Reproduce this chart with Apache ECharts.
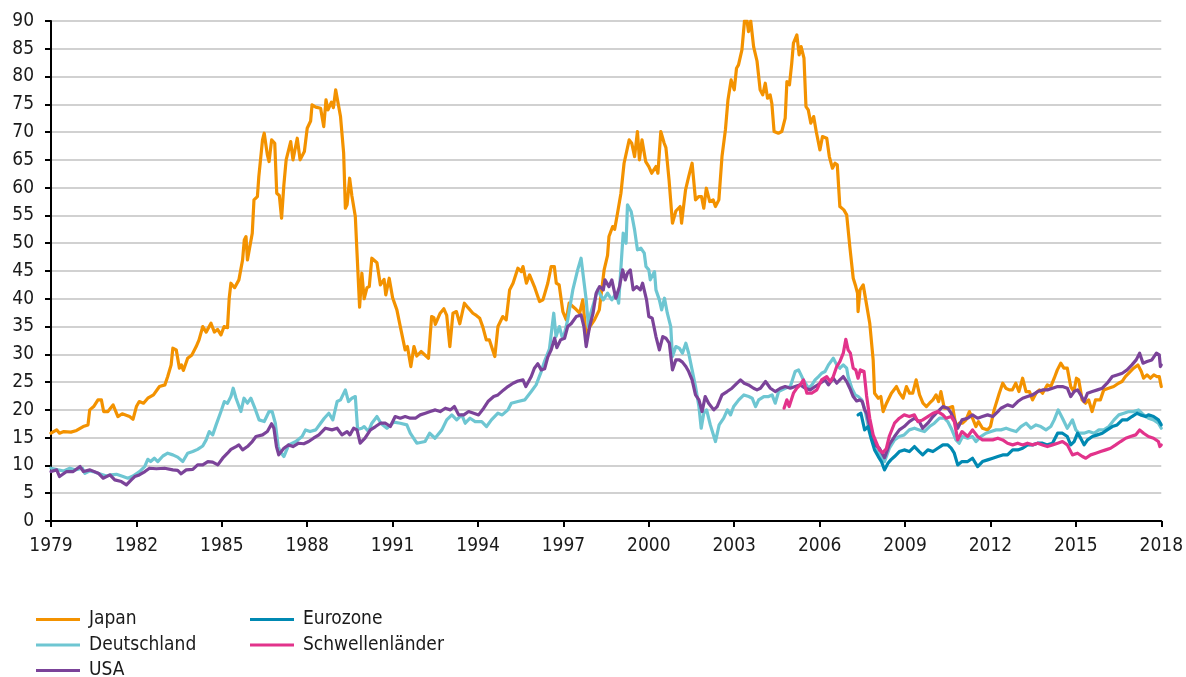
<!DOCTYPE html>
<html>
<head>
<meta charset="utf-8">
<script src="https://cdn.jsdelivr.net/npm/echarts@6/dist/echarts.min.js"></script>
<style>
html,body{margin:0;padding:0;background:#fff;}
#chart{width:1186px;height:677px;}
</style>
</head>
<body>
<div id="chart"></div>
<script>
// x range and tick labels
const startYear = 1979;
const endYear = 2018;
const yearStep = 3;
const yMin = 0, yMax = 90, yStep = 5;

const seriesNames = ['Japan', 'Deutschland', 'USA', 'Eurozone', 'Schwellenländer'];

// [year, value]
const japan = [[1979.0,15.8],[1979.2,16.4],[1979.3,15.8],[1979.45,16.1],[1979.7,16.0],[1979.9,16.3],[1980.13,17.0],[1980.3,17.3],[1980.36,20.0],[1980.5,20.6],[1980.65,21.8],[1980.77,21.8],[1980.85,19.7],[1981.0,19.7],[1981.18,20.9],[1981.35,18.8],[1981.5,19.3],[1981.76,18.8],[1981.88,18.3],[1982.0,20.6],[1982.1,21.5],[1982.25,21.2],[1982.4,22.1],[1982.6,22.7],[1982.81,24.2],[1983.0,24.5],[1983.1,26.0],[1983.22,28.1],[1983.28,31.1],[1983.4,30.8],[1983.51,27.5],[1983.58,28.1],[1983.65,27.1],[1983.8,29.3],[1983.95,29.9],[1984.1,31.4],[1984.2,32.6],[1984.33,35.0],[1984.45,34.0],[1984.62,35.6],[1984.74,34.0],[1984.85,34.5],[1984.97,33.5],[1985.08,35.0],[1985.2,34.8],[1985.26,40.1],[1985.32,42.8],[1985.45,42.0],[1985.6,43.4],[1985.73,47.0],[1985.79,50.6],[1985.85,51.2],[1985.9,47.0],[1986.07,51.8],[1986.13,57.8],[1986.25,58.4],[1986.3,62.0],[1986.43,68.6],[1986.49,69.8],[1986.6,65.9],[1986.66,64.7],[1986.75,68.6],[1986.86,68.0],[1986.93,59.0],[1987.02,58.6],[1987.1,54.5],[1987.18,60.5],[1987.26,65.0],[1987.42,68.3],[1987.5,65.0],[1987.65,68.9],[1987.75,65.0],[1987.9,66.5],[1988.0,70.7],[1988.12,72.0],[1988.17,74.9],[1988.3,74.5],[1988.47,74.3],[1988.58,71.0],[1988.66,75.8],[1988.73,74.0],[1988.85,75.4],[1988.92,74.4],[1989.0,77.6],[1989.07,77.5],[1989.17,72.8],[1989.28,66.2],[1989.34,56.3],[1989.4,56.9],[1989.49,61.7],[1989.57,58.5],[1989.69,54.8],[1989.75,48.2],[1989.84,38.5],[1989.92,44.6],[1990.0,40.0],[1990.1,42.0],[1990.18,42.2],[1990.27,47.3],[1990.45,46.5],[1990.5,46.2],[1990.57,42.5],[1990.7,43.5],[1990.76,40.7],[1990.88,43.7],[1991.0,40.2],[1991.15,38.0],[1991.27,35.0],[1991.44,30.8],[1991.52,31.4],[1991.64,27.8],[1991.75,31.4],[1991.85,29.7],[1992.0,30.5],[1992.26,29.3],[1992.37,36.8],[1992.45,36.6],[1992.5,35.4],[1992.67,37.4],[1992.8,38.2],[1992.9,37.0],[1993.01,31.4],[1993.12,37.4],[1993.24,37.7],[1993.36,35.5],[1993.52,39.2],[1993.65,38.4],[1993.82,37.4],[1993.94,37.0],[1994.06,36.5],[1994.17,34.9],[1994.29,32.6],[1994.4,32.6],[1994.59,29.6],[1994.7,35.0],[1994.87,36.8],[1994.99,36.2],[1995.11,41.6],[1995.23,42.8],[1995.4,45.5],[1995.52,44.9],[1995.58,45.8],[1995.7,42.8],[1995.81,44.3],[1995.98,42.2],[1996.16,39.5],[1996.28,39.8],[1996.45,42.8],[1996.57,45.8],[1996.68,45.8],[1996.75,42.8],[1996.85,42.5],[1996.98,37.7],[1997.1,36.2],[1997.2,39.2],[1997.4,38.3],[1997.57,37.4],[1997.68,39.8],[1997.8,33.2],[1997.92,34.9],[1998.09,36.2],[1998.26,38.0],[1998.43,45.2],[1998.55,47.8],[1998.6,51.2],[1998.73,53.0],[1998.8,52.5],[1998.9,55.4],[1999.02,59.0],[1999.13,64.4],[1999.31,68.6],[1999.4,68.0],[1999.5,65.6],[1999.6,70.1],[1999.67,65.0],[1999.76,68.6],[1999.89,64.7],[2000.0,63.8],[2000.1,62.6],[2000.25,63.8],[2000.32,62.6],[2000.42,70.1],[2000.54,68.0],[2000.6,67.2],[2000.71,61.4],[2000.83,53.6],[2000.95,55.8],[2001.1,56.6],[2001.15,53.6],[2001.29,59.6],[2001.4,62.0],[2001.52,64.4],[2001.64,57.8],[2001.75,58.4],[2001.85,58.4],[2001.93,56.3],[2002.02,59.9],[2002.14,57.5],[2002.26,57.8],[2002.34,56.6],[2002.46,57.8],[2002.57,65.6],[2002.69,70.4],[2002.78,75.8],[2002.89,79.4],[2003.0,77.6],[2003.08,81.5],[2003.15,82.1],[2003.27,84.8],[2003.36,90.0],[2003.45,90.0],[2003.5,88.1],[2003.58,90.0],[2003.68,85.4],[2003.8,82.8],[2003.91,77.6],[2004.0,76.7],[2004.09,78.8],[2004.17,76.1],[2004.26,76.7],[2004.32,75.2],[2004.4,70.1],[2004.55,69.8],[2004.67,70.1],[2004.79,72.5],[2004.85,79.1],[2004.94,78.5],[2005.02,82.4],[2005.08,86.0],[2005.2,87.5],[2005.28,83.9],[2005.35,85.4],[2005.45,83.3],[2005.52,74.6],[2005.6,74.0],[2005.69,71.6],[2005.79,72.8],[2005.88,70.1],[2006.01,66.8],[2006.1,69.2],[2006.25,68.9],[2006.34,65.6],[2006.45,63.5],[2006.54,64.4],[2006.62,64.1],[2006.71,56.6],[2006.85,56.0],[2006.95,55.1],[2007.06,49.4],[2007.18,43.7],[2007.27,42.2],[2007.33,41.0],[2007.35,37.7],[2007.42,41.6],[2007.53,42.5],[2007.65,38.9],[2007.76,35.6],[2007.88,29.0],[2007.93,23.0],[2008.06,22.1],[2008.15,22.4],[2008.23,19.7],[2008.35,21.2],[2008.52,23.0],[2008.7,24.2],[2008.81,23.0],[2008.93,22.1],[2009.05,24.2],[2009.16,23.0],[2009.27,23.0],[2009.39,25.4],[2009.51,22.7],[2009.63,21.2],[2009.75,20.6],[2009.86,21.2],[2009.98,21.8],[2010.09,22.7],[2010.18,21.5],[2010.26,23.3],[2010.38,20.3],[2010.5,20.3],[2010.67,20.6],[2010.79,17.0],[2010.9,17.6],[2011.02,17.6],[2011.14,18.2],[2011.26,19.7],[2011.37,18.5],[2011.49,17.0],[2011.58,17.9],[2011.72,16.7],[2011.9,16.4],[2012.0,17.0],[2012.13,20.0],[2012.31,23.0],[2012.43,24.8],[2012.54,23.9],[2012.66,23.6],[2012.77,23.6],[2012.89,24.8],[2013.0,23.3],[2013.13,25.7],[2013.25,23.3],[2013.37,23.3],[2013.48,21.8],[2013.6,23.0],[2013.72,23.6],[2013.83,23.0],[2014.0,24.5],[2014.12,24.2],[2014.24,25.7],[2014.35,27.2],[2014.47,28.4],[2014.58,27.5],[2014.7,27.5],[2014.82,24.2],[2014.93,23.3],[2015.02,25.7],[2015.1,25.4],[2015.22,21.8],[2015.34,21.2],[2015.45,21.8],[2015.57,19.7],[2015.69,21.8],[2015.86,21.8],[2015.98,23.6],[2016.15,23.9],[2016.33,24.2],[2016.5,24.8],[2016.62,25.1],[2016.74,26.0],[2016.91,26.9],[2017.03,27.5],[2017.18,28.1],[2017.3,26.9],[2017.38,25.7],[2017.5,26.3],[2017.62,25.7],[2017.74,26.3],[2017.85,26.0],[2017.93,26.0],[2018.0,24.2]];

const deutschland = [[1979.0,9.5],[1979.25,9.2],[1979.45,9.0],[1979.66,9.5],[1979.85,9.2],[1980.1,9.5],[1980.19,8.6],[1980.35,9.0],[1980.48,8.9],[1980.65,8.6],[1980.95,8.1],[1981.1,8.3],[1981.3,8.4],[1981.53,8.0],[1981.7,7.7],[1981.88,8.1],[1982.11,8.9],[1982.29,9.8],[1982.4,11.1],[1982.5,10.7],[1982.63,11.3],[1982.75,10.7],[1982.93,11.7],[1983.1,12.2],[1983.28,11.9],[1983.45,11.5],[1983.63,10.7],[1983.8,12.2],[1983.98,12.5],[1984.15,12.9],[1984.33,13.5],[1984.45,14.6],[1984.56,16.1],[1984.68,15.5],[1984.8,17.3],[1984.97,19.7],[1985.09,21.5],[1985.2,21.2],[1985.32,22.4],[1985.4,23.9],[1985.5,22.1],[1985.67,19.7],[1985.78,22.1],[1985.9,21.2],[1986.02,22.1],[1986.14,20.6],[1986.31,18.2],[1986.49,17.9],[1986.66,19.7],[1986.77,19.7],[1986.88,17.6],[1986.98,13.4],[1987.05,12.5],[1987.18,11.6],[1987.35,13.7],[1987.6,14.3],[1987.82,15.2],[1987.94,16.4],[1988.1,16.1],[1988.3,16.4],[1988.47,17.6],[1988.6,18.5],[1988.76,19.4],[1988.9,18.2],[1989.05,21.5],[1989.17,21.8],[1989.34,23.6],[1989.45,21.5],[1989.57,22.1],[1989.69,22.4],[1989.77,16.5],[1989.92,16.7],[1990.0,17.0],[1990.15,16.1],[1990.27,17.6],[1990.45,18.8],[1990.6,17.5],[1990.8,16.7],[1991.04,17.8],[1991.27,17.6],[1991.5,17.3],[1991.62,15.8],[1991.85,14.0],[1992.14,14.3],[1992.3,15.8],[1992.49,14.9],[1992.73,16.4],[1992.9,18.2],[1993.08,19.1],[1993.25,18.2],[1993.43,19.1],[1993.55,17.6],[1993.72,18.5],[1993.9,17.9],[1994.13,17.9],[1994.3,17.0],[1994.47,18.2],[1994.7,19.4],[1994.85,19.1],[1995.05,20.0],[1995.17,21.2],[1995.4,21.5],[1995.64,21.8],[1995.87,23.3],[1996.04,24.5],[1996.22,26.9],[1996.34,28.8],[1996.51,31.0],[1996.66,37.4],[1996.74,33.2],[1996.86,35.0],[1996.95,33.2],[1997.04,33.8],[1997.15,36.2],[1997.33,41.6],[1997.5,45.2],[1997.62,47.3],[1997.8,39.8],[1997.88,35.0],[1997.96,37.4],[1998.2,41.6],[1998.4,39.8],[1998.55,41.0],[1998.7,39.8],[1998.85,41.0],[1998.94,39.2],[1999.03,46.4],[1999.1,51.8],[1999.2,50.0],[1999.25,56.9],[1999.38,55.7],[1999.5,52.4],[1999.6,48.8],[1999.72,49.1],[1999.84,48.2],[1999.9,45.8],[2000.0,45.2],[2000.05,43.4],[2000.2,44.9],[2000.25,41.6],[2000.37,39.8],[2000.45,38.0],[2000.55,40.1],[2000.65,37.4],[2000.77,35.0],[2000.83,29.6],[2000.95,31.4],[2001.07,31.1],[2001.18,30.2],[2001.3,32.0],[2001.4,30.2],[2001.52,27.2],[2001.64,24.2],[2001.76,20.6],[2001.84,16.7],[2001.93,19.4],[2002.03,20.0],[2002.16,17.3],[2002.34,14.3],[2002.47,17.3],[2002.63,18.5],[2002.76,20.0],[2002.87,19.1],[2002.98,20.6],[2003.16,21.8],[2003.34,22.7],[2003.51,22.4],[2003.63,22.1],[2003.75,20.6],[2003.86,21.8],[2004.04,22.4],[2004.21,22.4],[2004.33,22.7],[2004.44,21.2],[2004.56,23.3],[2004.68,23.6],[2004.79,23.9],[2004.97,24.2],[2005.14,26.9],[2005.26,27.2],[2005.43,25.4],[2005.61,23.9],[2005.73,24.5],[2005.84,25.4],[2005.96,26.0],[2006.07,26.6],[2006.19,26.9],[2006.31,28.1],[2006.48,29.3],[2006.6,28.1],[2006.71,27.5],[2006.83,28.1],[2006.95,27.5],[2007.0,26.0],[2007.13,23.9],[2007.25,22.7],[2007.36,22.4],[2007.48,21.8],[2007.59,20.0],[2007.71,17.0],[2007.83,15.2],[2008.0,13.4],[2008.1,12.2],[2008.28,10.7],[2008.45,13.1],[2008.63,14.6],[2008.8,15.2],[2008.97,15.5],[2009.15,16.4],[2009.33,16.7],[2009.5,16.4],[2009.68,16.1],[2009.86,17.0],[2010.03,17.6],[2010.21,18.5],[2010.38,18.5],[2010.5,17.9],[2010.62,16.7],[2010.79,14.6],[2010.9,14.0],[2011.02,15.2],[2011.2,14.9],[2011.37,15.2],[2011.49,14.3],[2011.66,15.2],[2011.84,15.8],[2012.02,16.1],[2012.2,16.4],[2012.37,16.4],[2012.55,16.7],[2012.72,16.4],[2012.9,16.1],[2013.07,17.0],[2013.25,17.6],[2013.42,16.7],[2013.6,17.3],[2013.77,17.0],[2013.95,16.4],[2014.12,17.0],[2014.24,18.2],[2014.38,20.0],[2014.53,18.5],[2014.7,16.7],[2014.88,18.2],[2015.0,16.4],[2015.11,15.8],[2015.28,15.8],[2015.46,16.1],[2015.64,15.8],[2015.81,16.4],[2015.98,16.4],[2016.16,17.0],[2016.34,18.2],[2016.51,19.1],[2016.69,19.4],[2016.86,19.7],[2017.03,19.7],[2017.2,20.0],[2017.38,19.1],[2017.55,18.5],[2017.73,18.2],[2017.9,17.6],[2018.0,16.7]];

const usa = [[1979.0,8.9],[1979.2,9.2],[1979.3,8.0],[1979.55,8.9],[1979.78,8.9],[1980.02,9.8],[1980.14,8.9],[1980.37,9.2],[1980.66,8.6],[1980.83,7.7],[1981.07,8.3],[1981.24,7.4],[1981.47,7.1],[1981.65,6.5],[1981.82,7.4],[1981.94,8.0],[1982.1,8.3],[1982.3,8.9],[1982.46,9.5],[1982.7,9.4],[1982.99,9.5],[1983.28,9.2],[1983.45,9.1],[1983.57,8.5],[1983.75,9.2],[1983.98,9.3],[1984.15,10.1],[1984.33,10.1],[1984.51,10.7],[1984.68,10.6],[1984.86,10.1],[1985.03,11.3],[1985.2,12.2],[1985.32,12.9],[1985.5,13.4],[1985.6,13.7],[1985.73,12.8],[1985.9,13.4],[1986.07,14.3],[1986.2,15.2],[1986.43,15.5],[1986.6,16.1],[1986.75,17.5],[1986.83,16.7],[1986.92,13.4],[1987.0,11.9],[1987.18,13.1],[1987.35,13.7],[1987.5,13.4],[1987.7,14.0],[1987.88,13.9],[1988.05,14.3],[1988.22,14.9],[1988.41,15.5],[1988.64,16.7],[1988.87,16.4],[1989.05,16.7],[1989.22,15.5],[1989.4,16.1],[1989.5,15.5],[1989.63,16.7],[1989.75,16.4],[1989.86,14.0],[1990.03,14.9],[1990.22,16.4],[1990.4,17.0],[1990.57,17.6],[1990.75,17.6],[1990.92,17.0],[1991.09,18.8],[1991.27,18.5],[1991.44,18.8],[1991.62,18.5],[1991.8,18.5],[1991.97,19.1],[1992.15,19.4],[1992.32,19.7],[1992.5,20.0],[1992.67,19.7],[1992.85,20.3],[1993.03,20.0],[1993.17,20.6],[1993.32,19.1],[1993.5,19.1],[1993.67,19.7],[1993.85,19.4],[1994.02,19.1],[1994.2,20.3],[1994.35,21.5],[1994.55,22.4],[1994.7,22.7],[1994.9,23.6],[1995.05,24.2],[1995.23,24.8],[1995.4,25.2],[1995.58,25.4],[1995.68,24.2],[1995.87,26.0],[1995.98,27.5],[1996.1,28.3],[1996.22,27.2],[1996.34,27.4],[1996.45,29.5],[1996.57,30.8],[1996.69,32.9],[1996.77,31.2],[1996.9,32.6],[1997.04,32.9],[1997.15,35.0],[1997.27,35.5],[1997.45,36.8],[1997.62,37.1],[1997.72,35.0],[1997.8,31.4],[1997.92,35.0],[1998.04,37.4],[1998.15,41.0],[1998.27,42.2],[1998.4,41.6],[1998.46,43.4],[1998.6,42.2],[1998.7,43.4],[1998.84,40.1],[1998.97,42.2],[1999.08,45.2],[1999.17,43.4],[1999.25,44.6],[1999.35,45.2],[1999.45,41.6],[1999.57,42.2],[1999.7,41.6],[1999.78,42.8],[1999.92,39.8],[2000.0,36.8],[2000.12,36.5],[2000.25,33.2],[2000.37,30.8],[2000.49,33.2],[2000.6,32.9],[2000.72,32.0],[2000.83,27.2],[2000.95,29.0],[2001.07,29.0],[2001.18,28.6],[2001.3,27.8],[2001.4,26.9],[2001.52,25.4],[2001.64,22.7],[2001.76,21.8],[2001.87,19.7],[2001.98,22.4],[2002.1,21.2],[2002.28,20.0],[2002.4,20.6],[2002.57,22.7],[2002.75,23.3],[2002.92,23.9],[2003.1,24.8],[2003.22,25.4],[2003.35,24.8],[2003.5,24.5],[2003.68,23.9],[2003.8,23.6],[2003.92,23.9],[2004.1,25.1],[2004.27,23.9],[2004.44,23.3],[2004.62,23.9],[2004.79,24.2],[2004.97,23.9],[2005.14,24.2],[2005.32,24.5],[2005.49,23.9],[2005.67,23.6],[2005.84,24.2],[2006.02,24.8],[2006.19,25.4],[2006.31,24.5],[2006.48,25.7],[2006.6,24.8],[2006.71,25.4],[2006.83,26.0],[2006.95,25.1],[2007.06,23.9],[2007.18,22.4],[2007.3,21.6],[2007.41,21.8],[2007.5,21.5],[2007.58,20.0],[2007.65,19.4],[2007.76,17.0],[2007.88,14.6],[2007.95,13.7],[2008.1,13.1],[2008.28,11.4],[2008.45,13.8],[2008.63,15.2],[2008.8,16.4],[2008.97,17.0],[2009.15,17.9],[2009.33,18.5],[2009.5,17.9],[2009.62,16.7],[2009.8,17.6],[2009.98,18.8],[2010.15,19.7],[2010.33,20.6],[2010.5,20.3],[2010.62,19.4],[2010.73,18.2],[2010.85,16.7],[2011.0,18.2],[2011.2,18.5],[2011.37,19.1],[2011.55,18.5],[2011.72,18.8],[2011.9,19.1],[2012.08,18.8],[2012.26,19.7],[2012.37,20.3],[2012.6,20.9],[2012.78,20.6],[2012.96,21.5],[2013.13,22.1],[2013.3,22.4],[2013.48,22.7],[2013.66,23.3],[2013.83,23.6],[2014.0,23.6],[2014.18,23.9],[2014.36,24.2],[2014.53,24.2],[2014.7,23.9],[2014.82,22.4],[2014.94,23.3],[2015.06,23.6],[2015.17,22.7],[2015.29,21.5],[2015.41,23.0],[2015.58,23.3],[2015.76,23.6],[2015.93,23.9],[2016.1,24.8],[2016.28,26.0],[2016.45,26.3],[2016.63,26.6],[2016.8,27.2],[2016.97,28.1],[2017.12,29.0],[2017.24,30.2],[2017.36,28.4],[2017.5,28.7],[2017.67,29.0],[2017.83,30.2],[2017.93,29.9],[2017.97,27.8],[2018.0,28.1]];

const eurozone = [[2007.35,19.1],[2007.45,19.4],[2007.58,16.4],[2007.7,17.0],[2007.8,15.0],[2007.93,12.8],[2008.06,11.6],[2008.17,10.7],[2008.28,9.2],[2008.4,10.4],[2008.5,11.0],[2008.63,11.6],[2008.8,12.5],[2008.97,12.8],[2009.15,12.5],[2009.33,13.4],[2009.5,12.5],[2009.62,11.9],[2009.8,12.8],[2009.98,12.5],[2010.15,13.1],[2010.33,13.7],[2010.5,13.7],[2010.62,13.1],[2010.73,12.2],[2010.85,10.1],[2011.0,10.7],[2011.2,10.7],[2011.37,11.3],[2011.55,9.8],[2011.72,10.7],[2011.9,11.0],[2012.08,11.3],[2012.26,11.6],[2012.43,11.9],[2012.6,11.9],[2012.78,12.8],[2012.96,12.8],[2013.13,13.1],[2013.3,13.7],[2013.48,13.7],[2013.66,14.0],[2013.83,14.0],[2014.0,13.7],[2014.18,14.0],[2014.36,15.8],[2014.53,15.8],[2014.7,15.2],[2014.82,13.7],[2014.94,14.3],[2015.06,15.8],[2015.17,14.9],[2015.29,13.7],[2015.41,14.6],[2015.58,15.2],[2015.76,15.5],[2015.93,15.8],[2016.1,16.4],[2016.28,17.0],[2016.45,17.3],[2016.63,18.2],[2016.8,18.2],[2016.97,18.8],[2017.15,19.4],[2017.27,19.1],[2017.45,18.8],[2017.55,19.1],[2017.73,18.8],[2017.9,18.2],[2018.0,17.3]];

const schwellenlaender = [[2004.75,20.3],[2004.85,21.8],[2004.93,20.6],[2005.08,23.0],[2005.2,23.9],[2005.32,24.5],[2005.43,25.4],[2005.55,23.0],[2005.72,23.0],[2005.9,23.6],[2006.07,25.4],[2006.25,26.0],[2006.37,25.1],[2006.48,26.0],[2006.6,27.8],[2006.71,28.7],[2006.83,30.2],[2006.92,32.7],[2007.0,30.8],[2007.08,30.2],[2007.18,27.5],[2007.27,27.2],[2007.35,25.7],[2007.43,27.2],[2007.5,27.2],[2007.56,26.9],[2007.65,22.5],[2007.76,18.5],[2007.88,15.5],[2008.0,14.0],[2008.1,12.8],[2008.22,12.3],[2008.34,13.0],[2008.45,15.3],[2008.63,17.6],[2008.8,18.5],[2008.97,19.1],[2009.15,18.8],[2009.33,19.1],[2009.45,17.9],[2009.62,18.2],[2009.8,18.8],[2009.98,19.4],[2010.15,19.7],[2010.33,19.1],[2010.44,18.5],[2010.62,18.8],[2010.73,17.9],[2010.85,14.6],[2011.0,16.1],[2011.2,15.2],[2011.37,16.4],[2011.55,15.2],[2011.72,14.6],[2011.9,14.6],[2012.08,14.6],[2012.26,14.9],[2012.43,14.6],[2012.6,14.0],[2012.78,13.7],[2012.96,14.0],[2013.13,13.7],[2013.3,14.0],[2013.48,13.7],[2013.66,14.0],[2013.83,13.7],[2014.0,13.4],[2014.18,13.7],[2014.36,14.0],[2014.53,14.3],[2014.7,13.7],[2014.88,11.9],[2015.06,12.2],[2015.23,11.6],[2015.35,11.3],[2015.52,11.9],[2015.7,12.2],[2015.87,12.5],[2016.05,12.8],[2016.22,13.1],[2016.4,13.7],[2016.57,14.3],[2016.75,14.9],[2016.92,15.2],[2017.1,15.5],[2017.24,16.4],[2017.38,15.8],[2017.55,15.2],[2017.73,14.9],[2017.9,14.3],[2017.95,13.4],[2018.0,13.7]];

const colors = {
  'Japan': '#F39200',
  'Deutschland': '#6EC6D2',
  'USA': '#7B4399',
  'Eurozone': '#0089B2',
  'Schwellenländer': '#E2338B'
};
const dataByName = {
  'Japan': japan,
  'Deutschland': deutschland,
  'USA': usa,
  'Eurozone': eurozone,
  'Schwellenländer': schwellenlaender
};

const FONT = "'Liberation Sans Narrow', 'DejaVu Sans Condensed', 'Roboto Condensed', sans-serif";
const TEXT = '#1a1a1a';

const chart = echarts.init(document.getElementById('chart'), null, {renderer: 'canvas'});

const series = seriesNames.map(name => ({
  name: name,
  type: 'line',
  data: dataByName[name].map(p => [p[0] - startYear, p[1]]),
  showSymbol: false,
  symbol: 'none',
  smooth: false,
  clip: true,
  lineStyle: { color: colors[name], width: 3.2, join: 'round', cap: 'round' },
  itemStyle: { color: colors[name] },
  emphasis: { disabled: true },
  animation: false
}));

const legendCommon = {
  orient: 'vertical',
  icon: 'rect',
  itemWidth: 44,
  itemHeight: 3,
  itemGap: 6.5,
  top: 605,
  height: 120,
  textStyle: { fontFamily: FONT, fontSize: 19, color: TEXT, lineHeight: 19, padding: [0, 0, 0, 4] },
  selectedMode: false
};

chart.setOption({
  backgroundColor: '#ffffff',
  animation: false,
  color: seriesNames.map(n => colors[n]),
  grid: { left: 51, right: 20, top: 21, bottom: 156 },
  legend: [
    Object.assign({}, legendCommon, { left: 31, data: ['Japan', 'Deutschland', 'USA'] }),
    Object.assign({}, legendCommon, { left: 245, data: ['Eurozone', 'Schwellenländer'] })
  ],
  xAxis: {
    type: 'value',
    min: 0,
    max: endYear - startYear,
    interval: yearStep,
    axisLine: { show: true, onZero: false, lineStyle: { color: '#000', width: 2 } },
    axisTick: { show: true, length: 6, inside: false, lineStyle: { color: '#000', width: 2 } },
    axisLabel: {
      margin: 16,
      fontFamily: FONT, fontSize: 19, color: TEXT,
      formatter: v => String(startYear + v)
    },
    splitLine: { show: false }
  },
  yAxis: {
    type: 'value',
    min: yMin, max: yMax, interval: yStep,
    axisLine: { show: true, lineStyle: { color: '#000', width: 2 } },
    axisTick: { show: true, length: 6, lineStyle: { color: '#000', width: 2 } },
    axisLabel: { margin: 17, fontFamily: FONT, fontSize: 19, color: TEXT },
    splitLine: { show: true, lineStyle: { color: '#c2c2c2', width: 1.5 } }
  },
  series: series
});
</script>
</body>
</html>
